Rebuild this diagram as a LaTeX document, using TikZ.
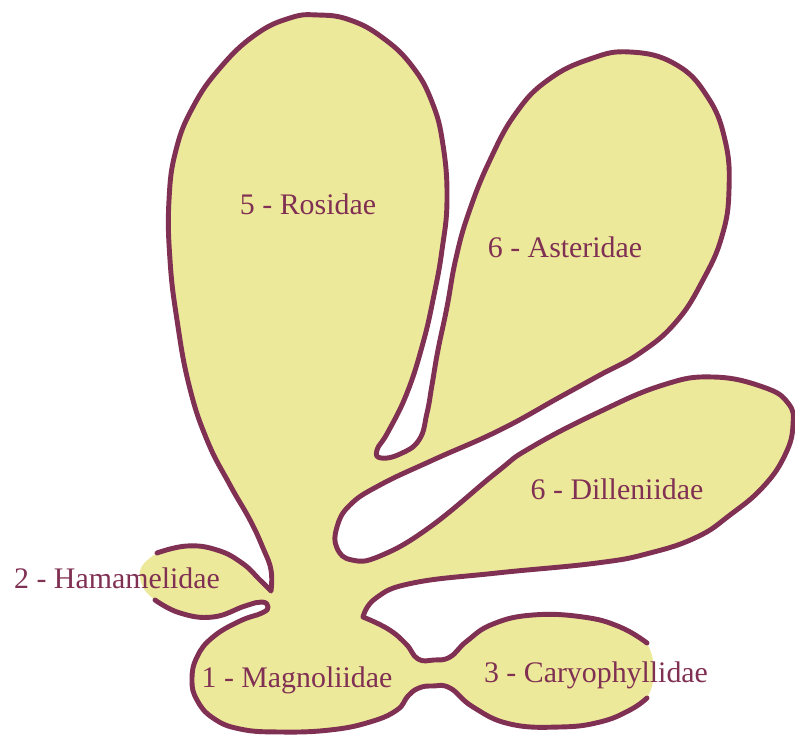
\documentclass[tikz,border=0pt]{standalone}
\usepackage{fontspec}
\setmainfont{Liberation Serif}
\definecolor{lobe}{RGB}{237,233,155}
\definecolor{rim}{RGB}{128,48,82}

\begin{document}
\begin{tikzpicture}[x=0.02cm, y=-0.02cm,
	every node/.style={font=\fontsize{17}{20}\selectfont, text=rim, inner sep=0pt, anchor=base},
	rim line/.style={draw=rim, line width=2.8pt, line join=round, line cap=round},
	every plot/.style={smooth, tension=0.75},
	upper rim/.style={insert path={
		-- plot coordinates {(157,553) (187,546) (217,550) (242,563) (260,580) (271,591)}
		-- plot coordinates {(271,591) (271,570) (263,548) (250,520) (230,485) (207,440) (189,385) (177,320) (170,260) (169,200) (176,150) (193,107) (220,68) (255,35) (290,18) (318,15) (350,20) (383,38) (412,66) (432,102) (443,145) (447,200) (442,250) (434,295) (423,343) (407,393) (388,432) (377,450) (381,458) (400,454) (419,440) (427,413) (432,385) (438,350) (447,307) (456,258) (469,212) (490,160) (516,113) (548,80) (590,59) (630,52) (675,64) (707,96) (725,140) (729,190) (722,236) (703,280) (676,322) (640,353) (600,375) (560,397) (500,430) (433,460) (380,485) (350,505) (337,527) (337,548) (352,560) (380,556) (430,527) (497,472) (530,448) (597,413) (663,385) (713,377) (763,387) (788,403) (793,425) (785,455) (763,487) (730,515) (697,537) (650,553) (597,563) (497,573) (413,583) (376,598) (363,617)}
		-- plot coordinates {(363,617) (388,629) (406,644) (418,659) (434,660) (450,657) (467,641) (493,624) (533,615) (583,617) (620,627) (647,643)}}},
	cary gap/.style={insert path={-- plot coordinates {(647,643) (653,660) (653,682) (647,698)}}},
	lower rim/.style={insert path={
		-- plot coordinates {(647,698) (630,710) (600,722) (560,727) (510,724) (473,707) (450,688) (433,686) (419,688) (408,696) (397,710) (370,722) (330,730) (280,732) (240,729) (213,718) (197,700) (192,680) (197,657) (213,637) (240,621) (262,613) (268,607) (262,602) (245,606) (213,617) (180,613) (155,600)}}},
	ham gap/.style={insert path={-- plot coordinates {(155,600) (143,587) (141,568) (157,553)}}}]
	\useasboundingbox (0,0) rectangle (795,736);
	% body of the plant
	\fill[lobe] (157,553) [upper rim] [cary gap] [lower rim] [ham gap] -- cycle;
	\draw[rim line] (157,553) [upper rim];
	\draw[rim line] (647,698) [lower rim];
	% subclasses
	\node (rosidae) at (308,215) {5 - Rosidae};
	\node (asteridae) at (565,258) {6 - Asteridae};
	\node (dilleniidae) at (617,500) {6 - Dilleniidae};
	\node (hamamelidae) at (117,588) {2 - Hamamelidae};
	\node (magnoliidae) at (297,687) {1 - Magnoliidae};
	\node (caryophyllidae) at (596,683) {3 - Caryophyllidae};
\end{tikzpicture}
\end{document}
